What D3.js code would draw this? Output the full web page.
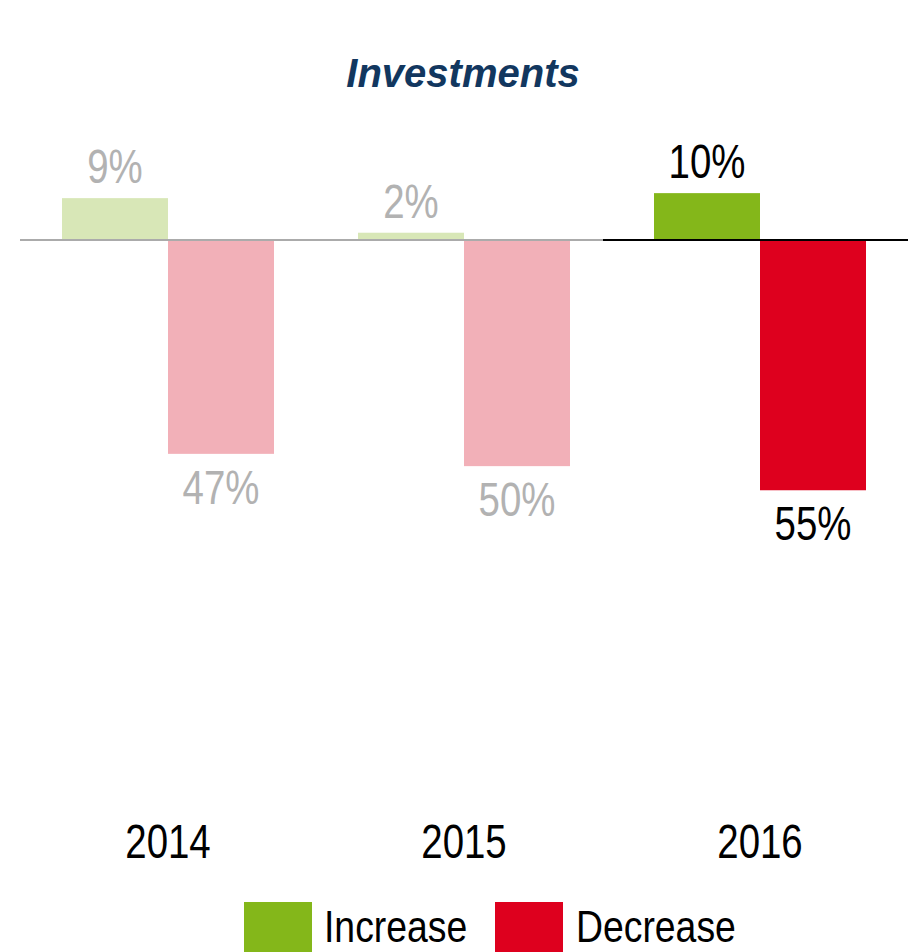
<!DOCTYPE html>
<html>
<head>
<meta charset="utf-8">
<script src="https://cdn.jsdelivr.net/npm/d3@7"></script>
<style>
  html, body { margin: 0; padding: 0; background: #fff; overflow: hidden; }
  svg { display: block; }
  text { font-family: "Liberation Sans", Arial, sans-serif; }
</style>
</head>
<body>
<svg id="chart" width="913" height="952"></svg>
<script>
const title = "Investments";
const years = ["2014", "2015", "2016"];
const increase = [9.2, 1.6, 10.3];
const decrease = [47.0, 49.7, 55.0];
const seriesNames = ["Increase", "Decrease"];
const highlighted = ["2016"];

const W = 913, H = 952;
const svg = d3.select("#chart");
const NARROW = 0.8;

const colors = {
  inc: "#84B71A", dec: "#DE001E",
  incFaded: "#D8E7B7", decFaded: "#F2B0B8",
  textFaded: "#B2B2B2", text: "#000000", title: "#12375F"
};

const x = d3.scaleBand().domain(years).range([20, 908]).paddingInner(0).paddingOuter(0);
const y = d3.scaleLinear().domain([20, -100]).range([149, 695]);
const barW = 106;

function narrowText(sel, tx, ty, size, anchor, k) {
  return sel.append("text")
    .attr("transform", `translate(${tx},${ty}) scale(${k || NARROW},1)`)
    .attr("text-anchor", anchor || "middle")
    .attr("font-size", size);
}

svg.append("text")
  .attr("x", 463).attr("y", 87)
  .attr("text-anchor", "middle")
  .attr("font-size", 40).attr("font-weight", "bold").attr("font-style", "italic")
  .attr("fill", colors.title)
  .text(title);

const groups = svg.selectAll("g.year").data(years).enter().append("g").attr("class", "year");

// bars
groups.each(function(yr, i) {
  const g = d3.select(this);
  const hl = highlighted.includes(yr);
  const cx = x(yr) + x.bandwidth() / 2;
  const iv = increase[i], dv = decrease[i];
  g.append("rect")
    .attr("x", cx - barW).attr("width", barW)
    .attr("y", y(iv)).attr("height", y(0) - y(iv))
    .attr("fill", hl ? colors.inc : colors.incFaded);
  g.append("rect")
    .attr("x", cx).attr("width", barW)
    .attr("y", y(0)).attr("height", y(-dv) - y(0))
    .attr("fill", hl ? colors.dec : colors.decFaded);
});

// zero line
years.forEach((yr, i) => {
  const hl = highlighted.includes(yr);
  const x0 = i === 0 ? 20 : x(yr) - 9;
  const x1 = i === years.length - 1 ? 908 : x(yr) + x.bandwidth() - 9;
  svg.append("line")
    .attr("x1", x0).attr("x2", x1)
    .attr("y1", y(0)).attr("y2", y(0))
    .attr("stroke", hl ? "#000" : "#ABABAB").attr("stroke-width", 2);
});

// labels
groups.each(function(yr, i) {
  const g = d3.select(this);
  const hl = highlighted.includes(yr);
  const cx = x(yr) + x.bandwidth() / 2;
  narrowText(g, cx - barW / 2, y(increase[i]) - 15, 48)
    .attr("fill", hl ? colors.text : colors.textFaded)
    .text(Math.round(increase[i]) + "%");
  narrowText(g, cx + barW / 2, y(-decrease[i]) + 50, 48)
    .attr("fill", hl ? colors.text : colors.textFaded)
    .text(Math.round(decrease[i]) + "%");
  narrowText(g, cx, 858, 48)
    .attr("fill", colors.text)
    .text(yr);
});

// legend
const legend = [
  {name: seriesNames[0], color: colors.inc, x: 244, tx: 324},
  {name: seriesNames[1], color: colors.dec, x: 495, tx: 576}
];
legend.forEach(l => {
  svg.append("rect").attr("x", l.x).attr("y", 902).attr("width", 68).attr("height", 60).attr("fill", l.color);
  narrowText(svg, l.tx, 942, 45, "start", 0.83).attr("fill", "#000").text(l.name);
});
</script>
</body>
</html>
